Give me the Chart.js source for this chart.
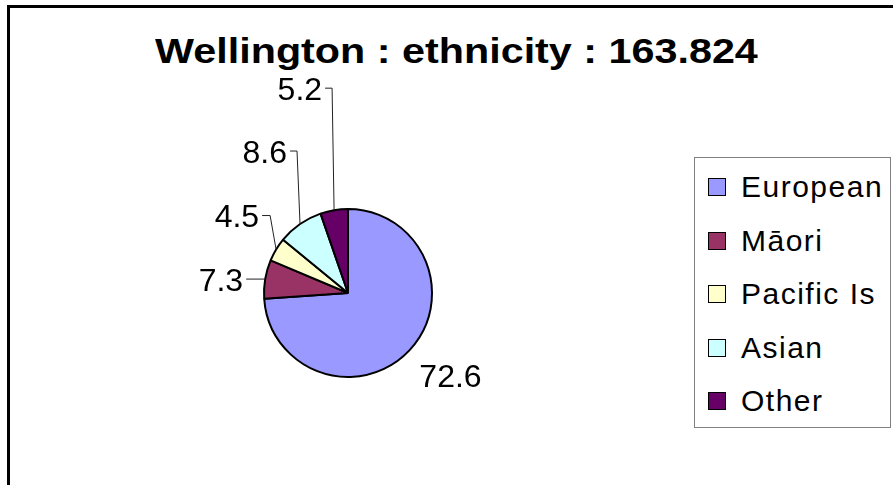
<!DOCTYPE html>
<html>
<head>
<meta charset="utf-8">
<script src="https://cdn.jsdelivr.net/npm/chart.js@4/dist/chart.umd.min.js"></script>
<style>
  body { margin: 0; background: #fff; }
  #wrap { position: relative; width: 893px; height: 485px; overflow: hidden; background: #fff; }
  #frame { position: absolute; left: 7px; top: 5px; width: 1000px; height: 1000px;
           border-left: 3px solid #000; border-top: 3px solid #000; }
  #title { position: absolute; left: 0; width: 893px; top: 33px; text-align: center;
           font: bold 35px "Liberation Sans", Arial, sans-serif; line-height: 36px; color: #000; }
  #title span { display: inline-block; transform: scaleX(1.18); transform-origin: 50% 50%; margin-left: 20px; }
  #legend { position: absolute; left: 694px; top: 157px; width: 195px; height: 269px;
            border: 1px solid #808080; background: #fff; }
  .item { position: absolute; left: 13px; height: 30px; display: flex; align-items: center;
          font: 30px "Liberation Sans", Arial, sans-serif; letter-spacing: 1.5px; color: #000; }
  .box { width: 16px; height: 16px; border: 1px solid #000; margin-right: 15px; }
  canvas { position: absolute; left: 0; top: 0; }
</style>
</head>
<body>
<div id="wrap">
  <div id="frame"></div>
  <div id="title"><span>Wellington : ethnicity : 163.824</span></div>
  <canvas id="pie" width="893" height="485"></canvas>
  <div id="legend"></div>
</div>
<script>
const groups = ["European", "Māori", "Pacific Is", "Asian", "Other"];
const shares = [72.6, 7.3, 4.5, 8.6, 5.2];
const sliceColors = ["#9999FF", "#993366", "#FFFFCC", "#CCFFFF", "#660066"];

// leader line layout per slice: elbow offset from the slice's outer mid point,
// horizontal tick length, or a plain text offset when there is no line
const leaderLayout = [
  { line: false, dx: 10, dy: 25, align: "left" },
  { line: true, dx: -19, dy: 0, tick: 0 },
  { line: true, dx: -6, dy: -34, tick: 8 },
  { line: true, dx: -3, dy: -73, tick: 7 },
  { line: true, dx: -2, dy: -122, tick: 7 },
];

const leaderLabels = {
  id: "leaderLabels",
  afterDatasetsDraw(chart) {
    const ctx = chart.ctx;
    const meta = chart.getDatasetMeta(0);
    ctx.save();
    ctx.font = '32px "Liberation Sans", Arial, sans-serif';
    ctx.fillStyle = "#000";
    ctx.strokeStyle = "#222";
    ctx.lineWidth = 1;
    ctx.textBaseline = "alphabetic";
    meta.data.forEach((arc, i) => {
      const p = arc.getProps(["x", "y", "startAngle", "endAngle", "outerRadius"], true);
      const mid = (p.startAngle + p.endAngle) / 2;
      const ax = p.x + Math.cos(mid) * p.outerRadius;
      const ay = p.y + Math.sin(mid) * p.outerRadius;
      const lay = leaderLayout[i];
      const text = String(shares[i]);
      if (!lay.line) {
        ctx.textAlign = lay.align;
        ctx.fillText(text, ax + lay.dx, ay + lay.dy + 11.5);
        return;
      }
      const ex = ax + lay.dx, ey = ay + lay.dy;
      ctx.beginPath();
      ctx.moveTo(ax, ay);
      ctx.lineTo(ex, ey);
      ctx.lineTo(ex - lay.tick, ey);
      ctx.stroke();
      ctx.textAlign = "right";
      ctx.fillText(text, ex - lay.tick - 3, ey + 11.5);
    });
    ctx.restore();
  },
};

new Chart(document.getElementById("pie"), {
  type: "pie",
  data: {
    labels: groups,
    datasets: [{
      data: shares,
      backgroundColor: sliceColors,
      borderColor: "#000",
      borderWidth: 2,
    }],
  },
  options: {
    responsive: false,
    animation: false,
    events: [],
    layout: { padding: { left: 263, top: 208, right: 460, bottom: 107 } },
    plugins: {
      legend: { display: false },
      title: { display: false },
      tooltip: { enabled: false },
    },
  },
  plugins: [leaderLabels],
});

// legend box on the right
const legendEl = document.getElementById("legend");
const rowCenters = [29, 83, 136, 190, 243];
groups.forEach((g, i) => {
  const row = document.createElement("div");
  row.className = "item";
  row.style.top = (rowCenters[i] - 15) + "px";
  const box = document.createElement("div");
  box.className = "box";
  box.style.background = sliceColors[i];
  row.appendChild(box);
  row.appendChild(document.createTextNode(g));
  legendEl.appendChild(row);
});
</script>
</body>
</html>
